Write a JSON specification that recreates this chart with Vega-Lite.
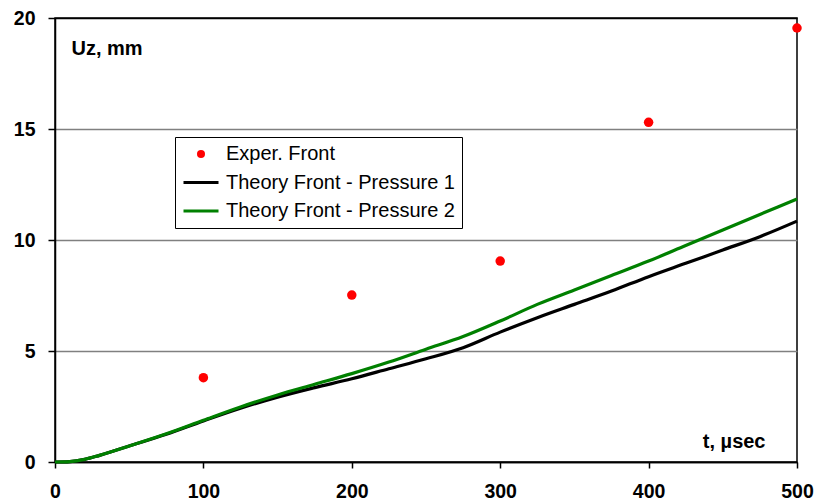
{
  "$schema": "https://vega.github.io/schema/vega-lite/v6.json",
  "width": 742,
  "height": 444,
  "autosize": "none",
  "padding": {"left": 55, "top": 18, "right": 20, "bottom": 40},
  "background": "white",
  "config": {
    "view": {"stroke": "black", "strokeWidth": 1.5},
    "font": "Liberation Sans"
  },
  "data": {
    "values": [
      {"t": 100, "v": 3.8, "s": "Exper. Front"},
      {"t": 200, "v": 7.52, "s": "Exper. Front"},
      {"t": 300, "v": 9.05, "s": "Exper. Front"},
      {"t": 400, "v": 15.3, "s": "Exper. Front"},
      {"t": 500, "v": 19.55, "s": "Exper. Front"},

      {"t": 0, "v": 0, "s": "Theory Front - Pressure 1"},
      {"t": 10, "v": 0.02, "s": "Theory Front - Pressure 1"},
      {"t": 20, "v": 0.12, "s": "Theory Front - Pressure 1"},
      {"t": 30, "v": 0.3, "s": "Theory Front - Pressure 1"},
      {"t": 50, "v": 0.72, "s": "Theory Front - Pressure 1"},
      {"t": 75, "v": 1.25, "s": "Theory Front - Pressure 1"},
      {"t": 100, "v": 1.85, "s": "Theory Front - Pressure 1"},
      {"t": 125, "v": 2.42, "s": "Theory Front - Pressure 1"},
      {"t": 150, "v": 2.92, "s": "Theory Front - Pressure 1"},
      {"t": 175, "v": 3.35, "s": "Theory Front - Pressure 1"},
      {"t": 200, "v": 3.75, "s": "Theory Front - Pressure 1"},
      {"t": 225, "v": 4.2, "s": "Theory Front - Pressure 1"},
      {"t": 250, "v": 4.65, "s": "Theory Front - Pressure 1"},
      {"t": 275, "v": 5.15, "s": "Theory Front - Pressure 1"},
      {"t": 300, "v": 5.85, "s": "Theory Front - Pressure 1"},
      {"t": 325, "v": 6.5, "s": "Theory Front - Pressure 1"},
      {"t": 350, "v": 7.1, "s": "Theory Front - Pressure 1"},
      {"t": 375, "v": 7.7, "s": "Theory Front - Pressure 1"},
      {"t": 400, "v": 8.35, "s": "Theory Front - Pressure 1"},
      {"t": 425, "v": 8.95, "s": "Theory Front - Pressure 1"},
      {"t": 450, "v": 9.55, "s": "Theory Front - Pressure 1"},
      {"t": 475, "v": 10.15, "s": "Theory Front - Pressure 1"},
      {"t": 500, "v": 10.85, "s": "Theory Front - Pressure 1"},

      {"t": 0, "v": 0, "s": "Theory Front - Pressure 2"},
      {"t": 10, "v": 0.02, "s": "Theory Front - Pressure 2"},
      {"t": 20, "v": 0.12, "s": "Theory Front - Pressure 2"},
      {"t": 30, "v": 0.3, "s": "Theory Front - Pressure 2"},
      {"t": 50, "v": 0.72, "s": "Theory Front - Pressure 2"},
      {"t": 75, "v": 1.27, "s": "Theory Front - Pressure 2"},
      {"t": 100, "v": 1.88, "s": "Theory Front - Pressure 2"},
      {"t": 125, "v": 2.48, "s": "Theory Front - Pressure 2"},
      {"t": 150, "v": 3.02, "s": "Theory Front - Pressure 2"},
      {"t": 175, "v": 3.5, "s": "Theory Front - Pressure 2"},
      {"t": 200, "v": 3.98, "s": "Theory Front - Pressure 2"},
      {"t": 225, "v": 4.5, "s": "Theory Front - Pressure 2"},
      {"t": 250, "v": 5.08, "s": "Theory Front - Pressure 2"},
      {"t": 275, "v": 5.65, "s": "Theory Front - Pressure 2"},
      {"t": 300, "v": 6.35, "s": "Theory Front - Pressure 2"},
      {"t": 325, "v": 7.1, "s": "Theory Front - Pressure 2"},
      {"t": 350, "v": 7.75, "s": "Theory Front - Pressure 2"},
      {"t": 375, "v": 8.4, "s": "Theory Front - Pressure 2"},
      {"t": 400, "v": 9.05, "s": "Theory Front - Pressure 2"},
      {"t": 425, "v": 9.75, "s": "Theory Front - Pressure 2"},
      {"t": 450, "v": 10.45, "s": "Theory Front - Pressure 2"},
      {"t": 475, "v": 11.15, "s": "Theory Front - Pressure 2"},
      {"t": 500, "v": 11.85, "s": "Theory Front - Pressure 2"}
    ]
  },
  "encoding": {
    "x": {
      "field": "t", "type": "quantitative",
      "scale": {"domain": [0, 500], "nice": false, "zero": false},
      "axis": {
        "values": [0, 100, 200, 300, 400, 500],
        "grid": false,
        "domainColor": "black", "domainWidth": 1.5,
        "tickColor": "black", "tickWidth": 1.5, "tickSize": 6,
        "labelFont": "Liberation Sans", "labelFontWeight": "bold", "labelFontSize": 19.5,
        "labelColor": "black", "labelPadding": 14, "labelFlush": false, "labelOverlap": false,
        "title": "t, µsec",
        "titleFont": "Liberation Sans", "titleFontWeight": "bold", "titleFontSize": 20, "titleColor": "black",
        "titleAnchor": null, "titleAlign": "right", "titleBaseline": "alphabetic",
        "titleX": 710, "titleY": -15
      }
    },
    "y": {
      "field": "v", "type": "quantitative",
      "scale": {"domain": [0, 20], "nice": false},
      "axis": {
        "values": [0, 5, 10, 15, 20],
        "grid": true,
        "gridColor": {"condition": {"test": "datum.value === 0 || datum.value === 20", "value": "black"}, "value": "#808080"},
        "gridWidth": 1.5,
        "domainColor": "black", "domainWidth": 1.5,
        "tickColor": "black", "tickWidth": 1.5, "tickSize": 7,
        "labelFont": "Liberation Sans", "labelFontWeight": "bold", "labelFontSize": 19.5,
        "labelColor": "black", "labelPadding": 13, "labelFlush": false,
        "title": "Uz, mm",
        "titleFont": "Liberation Sans", "titleFontWeight": "bold", "titleFontSize": 20, "titleColor": "black",
        "titleAngle": 0, "titleAnchor": null, "titleAlign": "left", "titleBaseline": "alphabetic",
        "titleX": 16, "titleY": 36
      }
    },
    "color": {
      "field": "s", "type": "nominal",
      "scale": {
        "domain": ["Exper. Front", "Theory Front - Pressure 1", "Theory Front - Pressure 2"],
        "range": ["#ff0000", "#000000", "#008000"]
      },
      "legend": {
        "title": null,
        "orient": "none",
        "legendX": 120,
        "legendY": 119,
        "padding": 7,
        "fillColor": "white",
        "strokeColor": "black",
        "labelFont": "Liberation Sans",
        "labelFontSize": 20,
        "labelColor": "black",
        "labelLimit": 400,
        "symbolSize": 100,
        "symbolOffset": 9,
        "labelOffset": 15,
        "rowPadding": 8.5,
        "encode": {
          "symbols": {
            "update": {
              "shape": {"signal": "datum.value === 'Exper. Front' ? 'circle' : 'stroke'"},
              "size": {"signal": "datum.value === 'Exper. Front' ? 65 : 1225"},
              "fill": {"signal": "datum.value === 'Exper. Front' ? '#ff0000' : 'transparent'"},
              "stroke": {"signal": "datum.value === 'Exper. Front' ? 'transparent' : (datum.value === 'Theory Front - Pressure 1' ? '#000000' : '#008000')"},
              "strokeWidth": {"signal": "datum.value === 'Exper. Front' ? 0 : 3"},
              "opacity": {"value": 1}
            }
          }
        }
      }
    }
  },
  "layer": [
    {
      "transform": [{"filter": "datum.s !== 'Exper. Front'"}],
      "mark": {"type": "line", "strokeWidth": 3.2, "interpolate": "monotone"}
    },
    {
      "transform": [{"filter": "datum.s === 'Exper. Front'"}],
      "mark": {"type": "point", "filled": true, "size": 90, "opacity": 1, "shape": "circle"}
    }
  ]
}
